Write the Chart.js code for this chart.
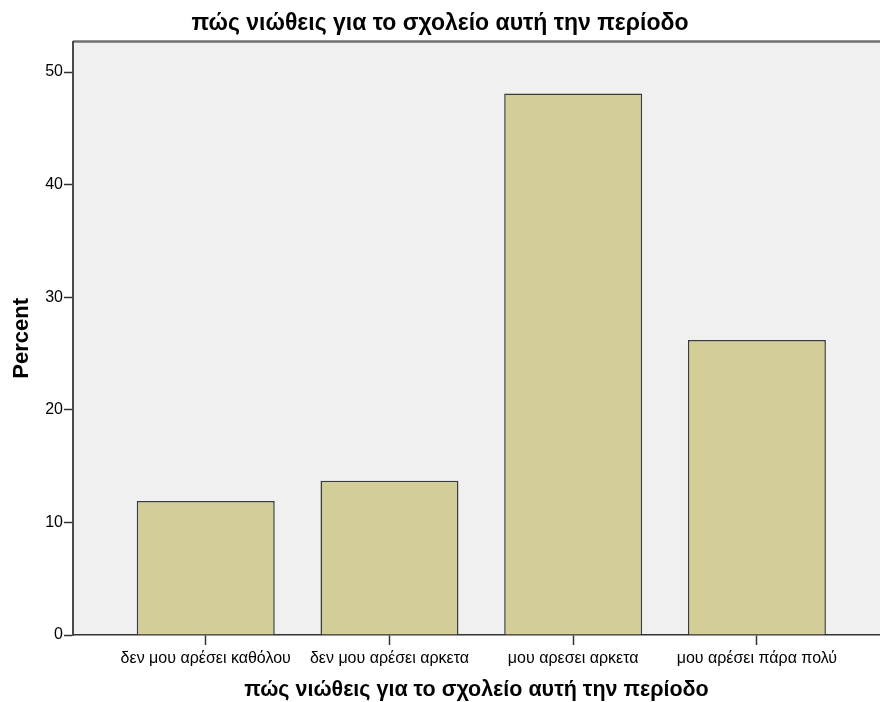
<!DOCTYPE html>
<html>
<head>
<meta charset="utf-8">
<script src="https://cdn.jsdelivr.net/npm/chart.js@4.4.1/dist/chart.umd.min.js"></script>
<style>
  html, body { margin: 0; padding: 0; background: #fff; }
  #wrap { width: 880px; height: 702px; }
</style>
</head>
<body>
<div id="wrap"><canvas id="chart" width="880" height="702"></canvas></div>
<script>
// data
const categories = ['δεν μου αρέσει καθόλου', 'δεν μου αρέσει αρκετα', 'μου αρεσει αρκετα', 'μου αρέσει πάρα πολύ'];
const percentValues = [11.9, 13.7, 48.1, 26.2];
const yTicks = [0, 10, 20, 30, 40, 50];

const chartTitle = 'πώς νιώθεις για το σχολείο αυτή την περίοδο';
const FONT = '"Liberation Sans", Arial, sans-serif';

// gray plot background + top frame line
const plotFrame = {
    id: 'plotFrame',
    beforeDraw(chart) {
        const { ctx, chartArea: a } = chart;
        ctx.save();
        ctx.fillStyle = '#f0f0f0';
        ctx.fillRect(a.left, a.top, a.right - a.left, a.bottom - a.top);
        ctx.strokeStyle = '#707070';
        ctx.lineWidth = 2.5;
        ctx.beginPath();
        ctx.moveTo(a.left, a.top);
        ctx.lineTo(a.right, a.top);
        ctx.stroke();
        ctx.restore();
    }
};

const ctx = document.getElementById('chart').getContext('2d');
new Chart(ctx, {
    type: 'bar',
    data: {
        datasets: [{
            data: categories.map((c, i) => ({ x: i, y: percentValues[i] })),
            backgroundColor: '#d3ce97',
            borderColor: '#3a3a3a',
            borderWidth: 1.5,
            barPercentage: 1,
            categoryPercentage: 0.751
        }]
    },
    options: {
        responsive: false,
        animation: false,
        layout: { padding: 0 },
        plugins: {
            legend: { display: false },
            tooltip: { enabled: false },
            title: {
                display: true,
                text: chartTitle,
                color: '#000',
                font: { family: FONT, size: 23, weight: 'bold' },
                padding: { top: 10, bottom: 4 }
            }
        },
        scales: {
            x: {
                type: 'linear',
                min: -0.7225,
                max: 3.67,
                offset: false,
                afterFit: s => { s.height = 67; },
                afterBuildTicks: s => {
                    s.ticks = categories.map((c, i) => ({ value: i }));
                },
                ticks: {
                    autoSkip: false,
                    maxRotation: 0,
                    color: '#000',
                    padding: 4,
                    font: { family: FONT, size: 16 },
                    callback: v => categories[v]
                },
                grid: {
                    offset: false,
                    drawOnChartArea: false,
                    drawTicks: true,
                    tickLength: 10,
                    tickWidth: 1.5,
                    tickColor: '#333'
                },
                border: { color: '#333', width: 1.5 },
                title: {
                    display: true,
                    text: chartTitle,
                    color: '#000',
                    font: { family: FONT, size: 21.5, weight: 'bold', lineHeight: 1 },
                    padding: { top: 0, bottom: 1 }
                }
            },
            y: {
                min: 0,
                max: 52.7,
                afterFit: s => { s.width = 73; },
                afterBuildTicks: s => {
                    s.ticks = yTicks.map(v => ({ value: v }));
                },
                ticks: {
                    color: '#000',
                    padding: 1,
                    font: { family: FONT, size: 16 }
                },
                grid: {
                    drawOnChartArea: false,
                    drawTicks: true,
                    tickLength: 9,
                    tickWidth: 1.5,
                    tickColor: '#333'
                },
                border: { color: '#4a4a4a', width: 2 },
                title: {
                    display: true,
                    text: 'Percent',
                    color: '#000',
                    font: { family: FONT, size: 22, weight: 'bold' },
                    padding: { top: 9, bottom: 0 }
                }
            }
        }
    },
    plugins: [plotFrame]
});
</script>
</body>
</html>
